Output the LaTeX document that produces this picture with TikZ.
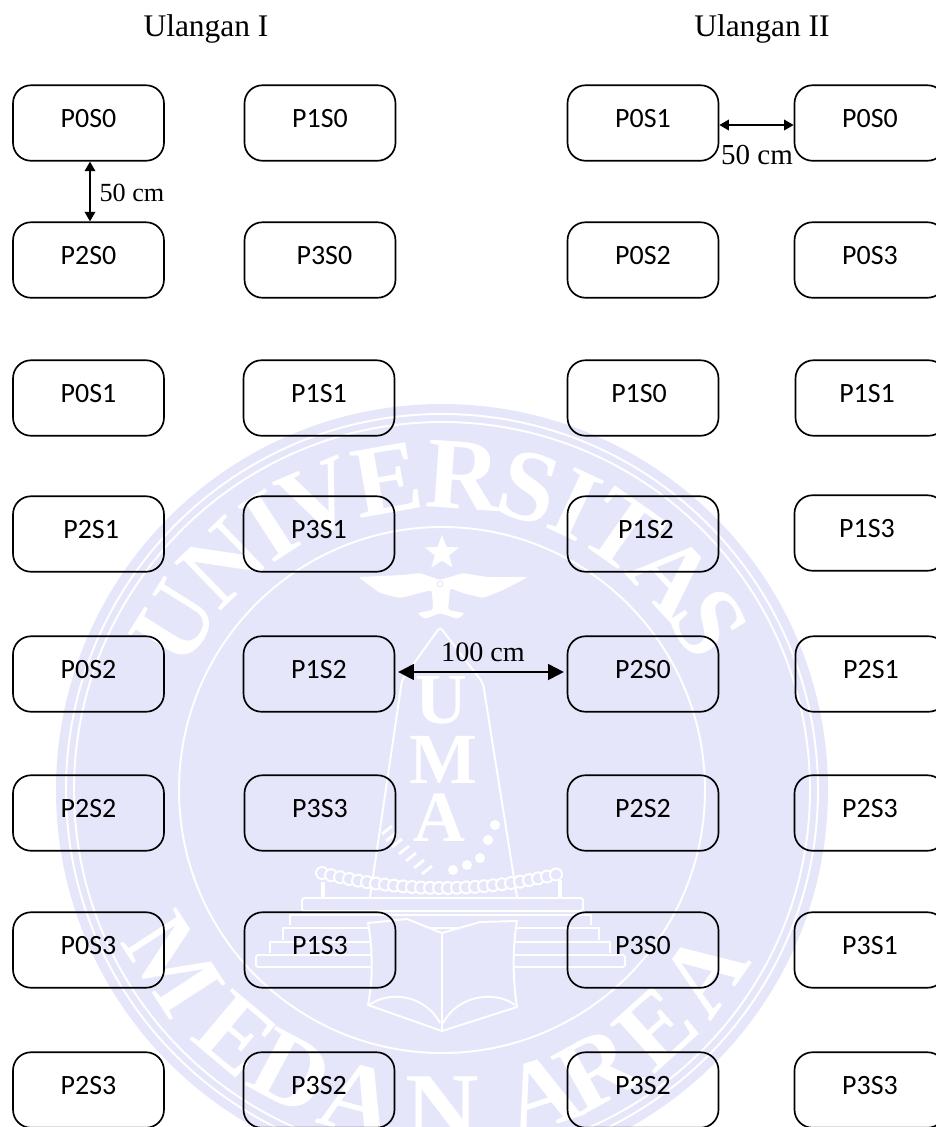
\documentclass[tikz,border=0pt]{standalone}
\usepackage{fontspec}
\usepackage{xcolor}
\usetikzlibrary{arrows.meta,shapes.geometric}
\setmainfont{Liberation Serif}
\newfontfamily\plotfont{Carlito}
\definecolor{sealblue}{HTML}{E6E6FA}
\newcommand{\plottext}[2][0pt]{\raisebox{-2.3pt}[0pt][0pt]{\makebox[0pt]{\hspace{#1}#2}}}
\tikzset{
  plotbox/.style={draw=black, line width=0.95pt, rounded corners=0.36cm, minimum width=3.02cm,
    minimum height=1.51cm, inner sep=0pt, font=\plotfont\fontsize{15.9pt}{18pt}\selectfont},
  titletext/.style={anchor=base, inner sep=0pt, font=\fontsize{17.9pt}{20pt}\selectfont},
  dimtext/.style={inner sep=0pt, font=\fontsize{#1}{18pt}\selectfont},
  dimline/.style={line width=1.1pt, {Triangle[length=5.5pt,width=6pt]}-{Triangle[length=5.5pt,width=6pt]}},
  dimwide/.style={line width=1.3pt, {Triangle[length=9pt,width=9pt]}-{Triangle[length=9pt,width=9pt]}},
  sealline/.style={draw=white, line width=1.1pt},
  sealletter/.style={inner sep=0pt, text=white, font=\bfseries\fontsize{58pt}{60pt}\selectfont},
  sealmark/.style={inner sep=0pt, text=white, font=\bfseries\fontsize{41pt}{44pt}\selectfont},
}

\begin{document}
\begin{tikzpicture}[x=0.02cm, y=-0.02cm]
\useasboundingbox (0,0) rectangle (936,1127);
% Seal behind the plots
\fill[sealblue] (442,790) circle (386);
\draw[sealline] (442,790) circle (376);
\draw[sealline] (442,790) circle (368);
\draw[sealline] (442,790) circle (263);
\begin{scope}[shift={(442,790)}, y=0.02cm]
\foreach \ch/\ang in {U/148,N/134,I/123,V/113,E/100,R/86,S/74,I/65,T/55,A/43,S/32}
  \node[sealletter, rotate=\ang-90] (top\ang) at (\ang:315) {\ch};
\foreach \ch/\ang in {M/213,E/230,D/242,A/255,N/270,A/288,R/299,E/312,A/325}
  \node[sealletter, rotate=\ang+90] (bot\ang) at (\ang:320) {\ch};
\end{scope}
% Star and bird
\node[star, star points=5, star point ratio=2.4, fill=white, inner sep=0pt, minimum size=0.72cm] (sealstar) at (442,553) {};
\fill[white, rounded corners=1.5pt] (358,577) -- (403,575) -- (420,573) -- (440,580) -- (463,573) -- (487,577)
  -- (528,577) -- (503,590) -- (483,598) -- (463,593) -- (450,588) -- (448,610) -- (465,613) -- (458,619)
  -- (440,613) -- (425,619) -- (417,613) -- (433,610) -- (432,590) -- (420,593) -- (400,598) -- (380,593) -- cycle;
\draw[sealblue, line width=0.5pt] (440,584) circle (3);
% Tower with its letters
\draw[sealline, rounded corners=2pt] (370,897) -- (402,680) -- (440,627) -- (483,683) -- (517,897);
\node[sealmark] (markU) at (442,700) {U};
\node[sealmark] (markM) at (443,760) {M};
\node[sealmark] (markA) at (440,818) {A};
% Chain and branch
\foreach \bx/\by in {495/825,488/840,480/858,467/865,453/870}
  \fill[white] (\bx,\by) circle (5);
\foreach \bx/\by in {387/830,391/837,397/843,404/850,411/857,419/864,427/870}
  \draw[white, line width=1.6pt] (\bx-5,\by+4) -- (\bx+5,\by-4);
\foreach \bx in {322,331,...,562}
  \draw[sealline, fill=sealblue] (\bx,{888-15*((\bx-442)/120)^2}) circle (6);
\draw[white, line width=2.4pt] (323,882) -- (323,898);
\draw[white, line width=2.4pt] (560,880) -- (560,898);
% Steps
\draw[sealline, rounded corners=1pt] (302,911) rectangle (583,898);
\draw[sealline] (290,925) -- (290,915) -- (591,915) -- (591,925);
\draw[sealline] (283,940) -- (283,928) -- (599,928) -- (599,940);
\draw[sealline] (270,953) -- (270,942) -- (610,942) -- (610,953);
\draw[sealline, rounded corners=1pt] (256,967) rectangle (625,955);
% Book
\draw[sealline, fill=sealblue, line join=round] (368,923) -- (407,919) -- (442,933) -- (480,922) -- (517,921)
  .. controls (512,950) and (513,980) .. (517,1007) -- (442,1031) -- (368,1005)
  .. controls (373,980) and (373,950) .. (368,923) -- cycle;
\draw[sealline] (369,1005) .. controls (390,990) and (425,995) .. (440,1023);
\draw[sealline] (515,1005) .. controls (495,990) and (458,995) .. (443,1023);
\draw[white, line width=1.7pt] (442,933) -- (442,1030);
% Ulangan I
\node[titletext] (titleone) at (206,36) {Ulangan I};
\node[plotbox] (c1r1) at (88.5,123) {\plottext{P0S0}};
\node[plotbox] (c2r1) at (320,123) {\plottext{P1S0}};
\node[plotbox] (c1r2) at (88.5,260) {\plottext{P2S0}};
\node[plotbox] (c2r2) at (320,260) {\plottext[5pt]{P3S0}};
\node[plotbox] (c1r3) at (88.5,398) {\plottext{P0S1}};
\node[plotbox] (c2r3) at (319,398) {\plottext{P1S1}};
\node[plotbox] (c1r4) at (88.5,534) {\plottext[3pt]{P2S1}};
\node[plotbox] (c2r4) at (319,534) {\plottext{P3S1}};
\node[plotbox] (c1r5) at (88.5,674) {\plottext{P0S2}};
\node[plotbox] (c2r5) at (319,674) {\plottext{P1S2}};
\node[plotbox] (c1r6) at (88.5,813) {\plottext{P2S2}};
\node[plotbox] (c2r6) at (320,813) {\plottext{P3S3}};
\node[plotbox] (c1r7) at (88.5,950) {\plottext{P0S3}};
\node[plotbox] (c2r7) at (320,950) {\plottext{P1S3}};
\node[plotbox] (c1r8) at (88.5,1090) {\plottext{P2S3}};
\node[plotbox] (c2r8) at (319,1090) {\plottext{P3S2}};
% Ulangan II
\node[titletext] (titletwo) at (762,36) {Ulangan II};
\node[plotbox] (c3r1) at (643,123) {\plottext{P0S1}};
\node[plotbox] (c4r1) at (870,123) {\plottext{P0S0}};
\node[plotbox] (c3r2) at (643,260) {\plottext{P0S2}};
\node[plotbox] (c4r2) at (870,260) {\plottext{P0S3}};
\node[plotbox] (c3r3) at (643,398) {\plottext[-4.5pt]{P1S0}};
\node[plotbox] (c4r3) at (871,398) {\plottext[-4.5pt]{P1S1}};
\node[plotbox] (c3r4) at (643,534) {\plottext[3.4pt]{P1S2}};
\node[plotbox] (c4r4) at (870,533) {\plottext[-3.4pt]{P1S3}};
\node[plotbox] (c3r5) at (643,674) {\plottext{P2S0}};
\node[plotbox] (c4r5) at (871,674) {\plottext{P2S1}};
\node[plotbox] (c3r6) at (643,813) {\plottext{P2S2}};
\node[plotbox] (c4r6) at (870,813) {\plottext{P2S3}};
\node[plotbox] (c3r7) at (643,950) {\plottext{P3S0}};
\node[plotbox] (c4r7) at (870,950) {\plottext{P3S1}};
\node[plotbox] (c3r8) at (643,1090) {\plottext{P3S2}};
\node[plotbox] (c4r8) at (870,1090) {\plottext{P3S3}};
% Spacing between plots
\draw[dimline] ([xshift=0.03cm]c1r1.south) -- ([xshift=0.03cm]c1r2.north);
\node[dimtext=14.9pt] (gapvert) at (132,193) {50 cm};
\draw[dimline] ([yshift=-0.04cm]c3r1.east) -- ([yshift=-0.04cm]c4r1.west);
\node[dimtext=16.5pt] (gaphoriz) at (757,155) {50 cm};
\draw[dimwide, shorten <=1.6pt, shorten >=1.6pt] ([yshift=0.04cm]c2r5.east) -- ([yshift=0.04cm]c3r5.west);
\node[dimtext=16pt] (gapwide) at (483,652) {100 cm};
\end{tikzpicture}
\end{document}
